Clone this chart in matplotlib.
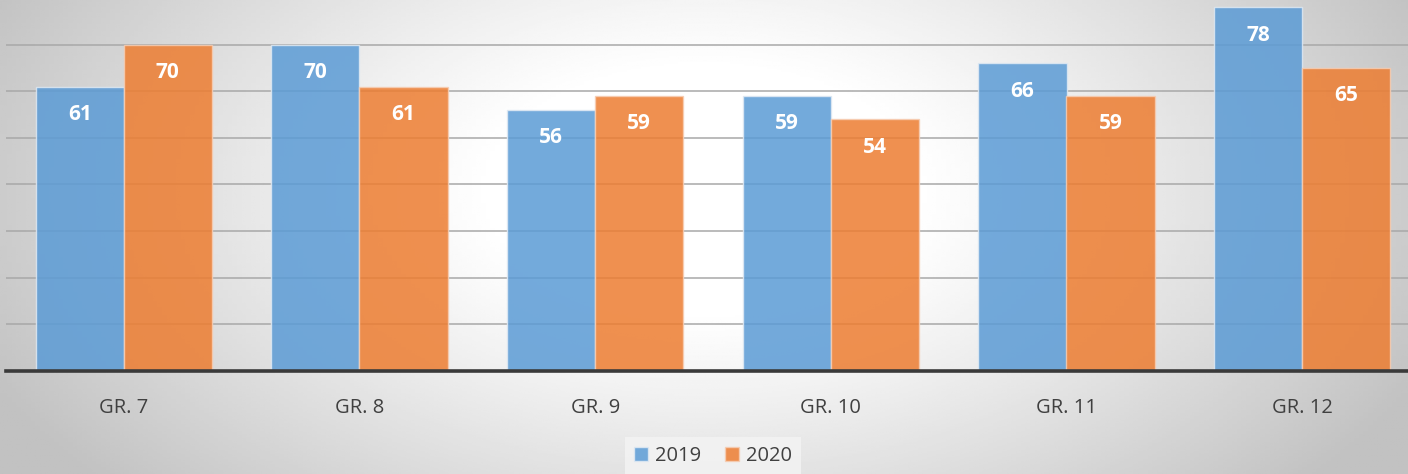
import numpy as np
import matplotlib.pyplot as plt
from matplotlib.patches import Patch

# data
grades = ['GR. 7', 'GR. 8', 'GR. 9', 'GR. 10', 'GR. 11', 'GR. 12']
vals_2019 = [61, 70, 56, 59, 66, 78]
vals_2020 = [70, 61, 59, 54, 59, 65]
series_names = ['2019', '2020']

blue = '#5B9BD5'
orange = '#ED7D31'
font = 'Open Sans'

fig = plt.figure(figsize=(14.08, 4.74), dpi=100)

# radial gradient background (white middle, grey edges)
bg = fig.add_axes([0, 0, 1, 1])
yy, xx = np.mgrid[0:1:300j, 0:1:300j]
r = np.sqrt(((xx - 0.5) / 0.5) ** 2 + ((yy - 0.6) / 0.85) ** 2)
shade = 1 - 0.2 * np.clip((r - 0.3) / 0.7, 0, None) ** 1.1
bg.imshow(np.clip(shade, 0.76, 1), cmap='gray', vmin=0, vmax=1,
          extent=[0, 1, 0, 1], aspect='auto', origin='lower')
bg.set_axis_off()

ax = fig.add_axes([6 / 1408, 103 / 474, 1414 / 1408, 373 / 474])
ax.patch.set_alpha(0)

x = np.arange(len(grades))
w = 0.3735
b1 = ax.bar(x - w / 2, vals_2019, w, color=blue, alpha=0.85,
            edgecolor='#dfe9f3', linewidth=1, zorder=3)
b2 = ax.bar(x + w / 2, vals_2020, w, color=orange, alpha=0.85,
            edgecolor='#f6cdb3', linewidth=1, zorder=3)

for bars in (b1, b2):
    for rect in bars:
        ax.annotate(f'{rect.get_height():.0f}',
                    (rect.get_x() + rect.get_width() / 2, rect.get_height()),
                    xytext=(0, -28), textcoords='offset pixels',
                    ha='center', va='center', color='white',
                    fontsize=15, fontweight='bold', family=font, zorder=4)

ax.set_xlim(-0.5, len(grades) - 0.5)
ax.set_ylim(0, 80)
ax.set_yticks(np.arange(10, 80, 10))
ax.yaxis.grid(True, color='#a8a8a8', linewidth=1.1, zorder=0)
ax.tick_params(axis='y', left=False, labelleft=False)
ax.tick_params(axis='x', bottom=False, pad=16)
ax.set_xticks(x)
ax.set_xticklabels(grades, fontsize=14.5, color='#404040', family=font)
for s in ['top', 'right', 'left']:
    ax.spines[s].set_visible(False)
ax.spines['bottom'].set_color('#3a3a3a')
ax.spines['bottom'].set_linewidth(2.6)
ax.spines['bottom'].set_zorder(5)

handles = [Patch(facecolor=blue, alpha=0.85, edgecolor='#dfe9f3'),
           Patch(facecolor=orange, alpha=0.85, edgecolor='#f6cdb3')]
leg = fig.legend(handles, series_names, loc='center', ncol=2,
                 bbox_to_anchor=(713 / 1408, 1 - 456 / 474),
                 frameon=True, fancybox=False, handlelength=0.7,
                 handleheight=0.7, handletextpad=0.35, columnspacing=1.2,
                 prop={'family': font, 'size': 14.5}, borderpad=0.45)
leg.get_frame().set_facecolor('#f4f4f4')
leg.get_frame().set_edgecolor('none')
leg.get_frame().set_alpha(0.8)
for t in leg.get_texts():
    t.set_color('#404040')

plt.savefig('out.png', dpi=100)
